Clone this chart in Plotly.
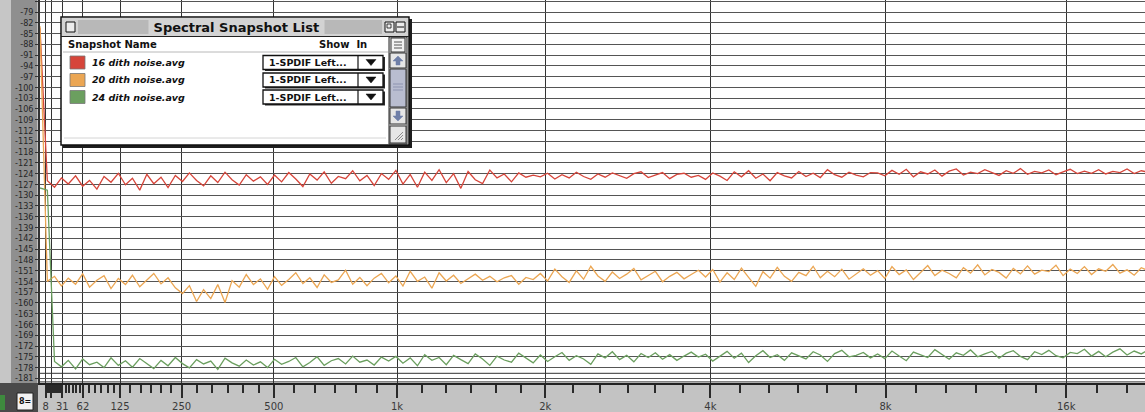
import math
import plotly.graph_objects as go

# The analyser draws frequency on a log scale of (f + KNEE_HZ): log-like up high,
# closer to linear at the bottom end.
KNEE_HZ = 361.0

# Display bins (Hz)
freq_hz = [
    0, 10, 20, 30, 40, 51, 62, 73, 85, 97,
    109, 122, 135, 148, 162, 176, 190, 205, 220, 236,
    252, 268, 285, 302, 320, 338, 357, 376, 396, 416,
    437, 458, 480, 502, 525, 549, 573, 598, 623, 650,
    677, 705, 733, 763, 793, 824, 856, 889, 923, 958,
    994, 1030, 1068, 1107, 1147, 1188, 1230, 1273, 1318, 1364,
    1411, 1459, 1509, 1560, 1612, 1666, 1721, 1778, 1836, 1896,
    1957, 2020, 2085, 2151, 2219, 2289, 2361, 2435, 2510, 2588,
    2668, 2750, 2834, 2920, 3009, 3100, 3193, 3289, 3388, 3489,
    3593, 3700, 3810, 3922, 4038, 4157, 4279, 4404, 4533, 4665,
    4801, 4940, 5083, 5230, 5381, 5536, 5696, 5860, 6028, 6200,
    6377, 6559, 6746, 6938, 7135, 7337, 7545, 7758, 7977, 8202,
    8433, 8670, 8913, 9163, 9419, 9682, 9952, 10229, 10514, 10806,
    11106, 11414, 11730, 12054, 12387, 12729, 13080, 13440, 13810, 14190,
    14580, 14980, 15391, 15813, 16246, 16691, 17148, 17617, 18098, 18592,
    19099, 19620, 20155, 20704, 21268, 21847,
]

# Averaged noise spectra (dBFS) for the three dither word lengths
dith16_db = [
    -83.5,
    -126.0, -127.8, -125.2, -126.9, -124.6, -127.5, -125.9, -128.3, -124.8, -126.4, -123.9,
    -127.1, -125.3, -128.6, -124.2, -126.8, -125.0, -127.9, -124.5,
    -126.2, -123.8, -125.9, -127.4, -124.6, -126.5, -123.6, -125.7, -127.2, -124.3, -126.1, -124.9, -127.0,
    -124.4, -126.3, -123.7, -125.5, -127.6, -124.1, -125.8, -123.5, -126.7, -124.8, -125.4, -123.2, -126.0,
    -124.5, -127.3, -124.0, -125.6,
    -123.1, -126.9, -124.2, -127.8, -123.6, -125.9, -122.9, -126.5, -124.0, -128.1, -123.4, -125.7, -126.8,
    -123.0, -125.2, -124.1, -126.3, -123.8, -125.0, -124.4,
    -124.9, -123.9, -125.5, -124.3, -125.2, -123.6, -124.8, -125.6, -124.1, -125.0, -123.8, -124.6, -125.3,
    -124.0, -123.5, -125.1, -124.4, -123.7, -125.4, -124.2, -123.9, -125.0, -124.5,
    -125.6, -123.8, -124.7, -125.9, -123.5, -124.9, -123.2, -125.3, -124.1, -126.0, -123.7, -124.6, -125.2,
    -123.4, -124.8, -123.9, -125.1, -122.9, -124.3, -125.0, -123.6, -124.4, -124.9, -123.7,
    -123.8, -124.6, -123.1, -124.2, -122.8, -124.9, -123.5, -124.1, -123.0, -124.7, -123.3, -122.7, -124.4,
    -123.6, -124.0, -122.9, -123.8, -124.5, -123.2, -123.9, -122.6, -124.2, -123.4, -123.8,
    -123.0, -124.3, -123.5, -122.8, -124.0, -123.3, -123.9, -122.9, -124.1, -123.4, -123.7, -122.7, -124.0,
    -123.2, -123.6,
]

dith20_db = [
    -83.0,
    -154.0, -152.6, -155.3, -153.1, -154.8, -151.9, -155.6, -153.7, -152.4, -156.0, -153.2,
    -154.9, -152.3, -155.5, -153.6, -151.8, -154.7, -153.0, -155.8,
    -157.4, -155.2, -159.6, -156.3, -158.8, -154.9, -159.9, -153.8, -155.6, -152.1, -154.9, -153.3, -156.2,
    -152.7, -155.1, -153.5, -151.6, -154.6, -153.0, -155.7, -152.2, -154.3, -153.6, -150.9, -154.8, -152.9,
    -155.2, -153.1, -151.8, -154.4,
    -152.5, -155.3, -151.2, -154.0, -152.8, -155.9, -151.6, -153.9, -152.3, -154.6, -153.2, -152.0, -153.7,
    -152.6, -154.1, -153.0, -152.4, -154.8, -152.9, -153.5,
    -151.8, -153.9, -150.6, -152.7, -154.3, -151.1, -153.4, -149.8, -152.5, -154.0, -151.4, -153.2, -152.0,
    -150.4, -153.6, -152.3, -151.2, -154.1, -152.6, -151.5, -153.3, -152.1, -150.9,
    -152.8, -150.7, -154.2, -151.6, -153.5, -150.3, -152.9, -155.4, -151.3, -153.1, -150.1, -152.6, -154.0,
    -151.5, -152.4, -149.8, -153.0, -151.2, -152.7, -150.6, -153.4, -151.9, -150.5, -152.3,
    -151.0, -153.2, -149.9, -152.1, -150.8, -153.5, -151.4, -149.6, -152.4, -150.9, -151.8, -153.0, -150.2,
    -151.7, -149.4, -152.2, -150.7, -151.5, -153.1, -150.4, -151.9, -149.7, -152.0, -150.9,
    -151.3, -149.5, -152.4, -150.6, -151.8, -149.9, -152.1, -150.5, -151.2, -149.3, -151.7, -150.8, -152.3,
    -150.2, -151.0,
]

dith24_db = [
    -128.0, -128.6,
    -176.3, -177.8, -176.0, -178.4, -175.6, -177.2, -176.5, -178.0, -175.3, -177.4,
    -176.1, -177.9, -175.5, -176.8, -178.3, -176.0, -177.5, -175.2,
    -176.9, -178.1, -175.8, -177.0, -176.2, -178.5, -175.4, -176.7, -177.6, -175.9, -177.3, -176.4, -178.0,
    -175.7, -177.1, -176.3, -175.2, -177.8, -176.6, -175.0, -177.4, -176.1, -175.5, -177.0, -174.8, -176.5,
    -175.9, -177.3, -175.1, -176.2,
    -174.9, -176.8, -175.3, -177.5, -174.4, -176.0, -175.2, -177.2, -174.6, -175.8, -176.9, -174.2, -175.6,
    -177.4, -174.8, -175.9, -176.5, -174.0, -175.4, -176.7,
    -174.5, -176.3, -175.0, -173.8, -176.0, -174.7, -175.6, -177.1, -174.2, -175.3, -173.6, -175.8, -174.6,
    -176.4, -174.1, -175.2, -173.9, -175.7, -174.4, -176.0, -174.8, -173.7, -175.1,
    -174.3, -176.2, -174.9, -173.5, -175.4, -174.0, -176.6, -174.7, -173.3, -175.2, -174.4, -176.0, -173.9,
    -174.8, -175.6, -173.6, -174.5, -176.3, -174.1, -173.2, -175.0, -174.6, -173.8, -175.3,
    -174.2, -175.5, -173.4, -174.8, -176.1, -173.7, -174.5, -175.2, -173.0, -174.3, -175.7, -173.9, -174.6,
    -173.1, -175.0, -174.2, -173.5, -175.4, -174.0, -173.3, -174.9, -175.8, -173.6, -174.4,
    -173.2, -174.7, -175.3, -173.8, -174.1, -172.9, -174.8, -173.5, -175.0, -173.7, -172.8, -174.5, -173.4,
    -174.2, -173.1,
]

snapshot_names = ["16 dith noise.avg", "20 dith noise.avg", "24 dith noise.avg"]
snapshot_colors = ["#d6453a", "#eba653", "#6b9f5f"]
snapshot_input = "1-SPDIF Left..."

octave_hz = [7.8125, 15.625, 31.25, 62.5, 125, 250, 500, 1000, 2000, 4000, 8000, 16000]
octave_text = ["8", "", "31", "62", "125", "250", "500", "1k", "2k", "4k", "8k", "16k"]
db_ticks = list(range(-76, -182, -3))

series = [dith16_db, dith20_db, dith24_db]
for s in series:
    assert len(s) == len(freq_hz), len(s)

# ---- page geometry ---------------------------------------------------------
W, H = 1145, 412
ML, MB = 40, 29
PW, PH = W - ML, H - MB


def px(x):
    return (x - ML) / PW


def py(y):
    return 1 - y / PH


def shift(f):
    return f + KNEE_HZ


fig = go.Figure()
for name, color, vals in zip(snapshot_names, snapshot_colors, series):
    fig.add_trace(go.Scatter(
        x=[shift(f) for f in freq_hz], y=vals, mode="lines", name=name,
        line=dict(color=color, width=1.3), showlegend=False,
    ))

# five evenly spaced minor ticks inside each octave on the display scale
minor_vals = []
edges = octave_hz + [32000]
for a, b in zip(edges[:-1], edges[1:]):
    la, lb = math.log(shift(a)), math.log(shift(b))
    for k in range(1, 6):
        minor_vals.append(math.exp(la + (lb - la) * k / 6))

x_right = KNEE_HZ * math.exp((W - ML) / 269.07)

shapes = []
ann = []


def rect(x0, y0, x1, y1, fill, line=None, lw=1.0, layer="above"):
    shapes.append(dict(
        type="rect", xref="paper", yref="paper", layer=layer,
        x0=px(x0), x1=px(x1), y0=py(y1), y1=py(y0), fillcolor=fill,
        line=dict(color=line if line else fill, width=lw if line else 0),
    ))


def hline(x0, x1, y, color, lw=1.0, layer="above"):
    shapes.append(dict(type="line", xref="paper", yref="paper", layer=layer,
                       x0=px(x0), x1=px(x1), y0=py(y), y1=py(y),
                       line=dict(color=color, width=lw)))


def vline(x, y0, y1, color, lw=1.0):
    shapes.append(dict(type="line", xref="paper", yref="paper",
                       x0=px(x), x1=px(x), y0=py(y0), y1=py(y1),
                       line=dict(color=color, width=lw)))


def poly(pts, fill):
    d = "M " + " L ".join(f"{px(a):.5f},{py(b):.5f}" for a, b in pts) + " Z"
    shapes.append(dict(type="path", xref="paper", yref="paper", path=d,
                       fillcolor=fill, line=dict(color=fill, width=0.5)))


def text(x, y, s, size=10, color="#111", anchor="left", bg=None, family="DejaVu Sans"):
    ann.append(dict(xref="paper", yref="paper", x=px(x), y=py(y), text=s,
                    showarrow=False, xanchor=anchor, yanchor="middle",
                    font=dict(family=family, size=size, color=color),
                    bgcolor=bg, borderpad=0))


# left scale strip and bottom-left corner control
rect(0, 0, 11, PH, "#c6c6c6", layer="below")
rect(11, 0, 37, PH, "#8f8f8f", layer="below")
rect(0, PH, 38, H, "#4a4a4a", layer="below")
rect(0, 395, 5, 410, "#3e8a3e", layer="below")
rect(17, 393, 33, 410, "#f2f2f2", line="#222", lw=1, layer="below")
text(25, 402, "<b>8=</b>", size=8, anchor="center")

# extra fine lines close to the floor of the scale
for v in (-179.6, -182.0):
    shapes.append(dict(type="line", xref="x domain", yref="y", layer="below",
                       x0=0, x1=1, y0=v, y1=v, line=dict(color="#5a5a5a", width=1.2)))

# ---- "Spectral Snapshot List" window ---------------------------------------
rect(63, 19, 412, 148, "#1e1e1e")
rect(61, 17, 409, 145, "#ffffff", line="#111", lw=1.5)
rect(62, 18, 408, 36, "#d3d3d3")
for yy in (21, 23, 25, 27, 29, 31, 33):
    hline(78, 382, yy, "#9d9d9d", 1)
hline(61, 409, 36.5, "#222", 1.2)
rect(66, 22, 75, 32, "#ececec", line="#111", lw=1)
rect(385, 22, 394, 32, "#ececec", line="#111", lw=1)
rect(387, 24, 391, 28, "#ececec", line="#111", lw=0.8)
rect(396, 22, 405, 32, "#ececec", line="#111", lw=1)
hline(397, 404, 27, "#111", 1)
text(236, 27.5, "<b> Spectral Snapshot List </b>", size=13, anchor="center", bg="#d3d3d3")

text(67, 44, "<b>Snapshot Name</b>", size=10)
text(318, 44, "<b>Show  In</b>", size=10)
hline(63, 388, 52, "#b8b8b8", 1)

row_y = [62.5, 80, 97]
for yc, name, color in zip(row_y, snapshot_names, snapshot_colors):
    rect(70, yc - 6.5, 85, yc + 6.5, color, line="#777", lw=0.8)
    text(91, yc, f"<b><i>{name}</i></b>", size=9.5)
    rect(265, yc - 5.5, 385, yc + 8.5, "#2a2a2a")
    rect(263, yc - 7, 383, yc + 7, "#ffffff", line="#111", lw=1.3)
    vline(358, yc - 7, yc + 7, "#111", 1.2)
    text(268, yc, f"<b>{snapshot_input}</b>", size=9.5)
    poly([(366, yc - 3), (376, yc - 3), (371, yc + 3)], "#111")

# scroll bar column
rect(389, 37, 407, 144, "#e2e2e2", line="#222", lw=1)
rect(391, 38, 405, 52, "#f3f3f3", line="#333", lw=1)
for yy in (42, 45, 48):
    hline(394, 402, yy, "#555", 1)
rect(390, 53, 406, 68, "#e6e6e6", line="#333", lw=1)
poly([(398, 56), (403, 61), (400, 61), (400, 65), (396, 65), (396, 61), (393, 61)], "#6f7fa8")
rect(390, 69, 406, 107, "#b9bdd0", line="#333", lw=1)
for yy in (84, 87, 90):
    hline(393, 403, yy, "#8d93b0", 1)
rect(390, 108, 406, 124, "#e6e6e6", line="#333", lw=1)
poly([(398, 121), (403, 116), (400, 116), (400, 111), (396, 111), (396, 116), (393, 116)], "#6f7fa8")
rect(390, 126, 406, 143, "#e6e6e6", line="#333", lw=1)
for k in range(3):
    shapes.append(dict(type="line", xref="paper", yref="paper",
                       x0=px(395 + 3 * k), y0=py(140), x1=px(403), y1=py(132 + 3 * k),
                       line=dict(color="#8a8a8a", width=1)))
hline(64, 386, 138, "#d4d4d4", 1)

fig.update_layout(
    width=W, height=H,
    margin=dict(l=ML, r=0, t=0, b=MB, pad=0),
    paper_bgcolor="#c3c3c3",
    plot_bgcolor="#ffffff",
    template="none",
    hovermode=False,
    shapes=shapes,
    annotations=ann,
    xaxis=dict(
        type="log",
        range=[math.log10(KNEE_HZ), math.log10(x_right)],
        tickmode="array",
        tickvals=[shift(f) for f in octave_hz],
        ticktext=octave_text,
        ticks="outside", ticklen=13, tickwidth=1.6, tickcolor="#2a2a2a",
        tickfont=dict(family="DejaVu Sans", size=10, color="#3a3a3a"),
        showgrid=True, gridcolor="#333333", gridwidth=1.4,
        showline=True, linecolor="#222222", linewidth=2,
        zeroline=False,
        minor=dict(tickmode="array", tickvals=minor_vals, ticks="outside",
                   ticklen=8, tickwidth=1.6, tickcolor="#2a2a2a", showgrid=False),
    ),
    yaxis=dict(
        range=[-182.3, -75.66],
        tickmode="array",
        tickvals=db_ticks,
        ticktext=[str(v) for v in db_ticks],
        ticks="outside", ticklen=3, tickwidth=1.2, tickcolor="#333333",
        tickfont=dict(family="DejaVu Sans Condensed, DejaVu Sans", size=9, color="#262626"),
        showgrid=True, gridcolor="#555555", gridwidth=1.3,
        showline=True, linecolor="#333333", linewidth=1.5,
        zeroline=False,
    ),
)

fig.write_html("out.html")
